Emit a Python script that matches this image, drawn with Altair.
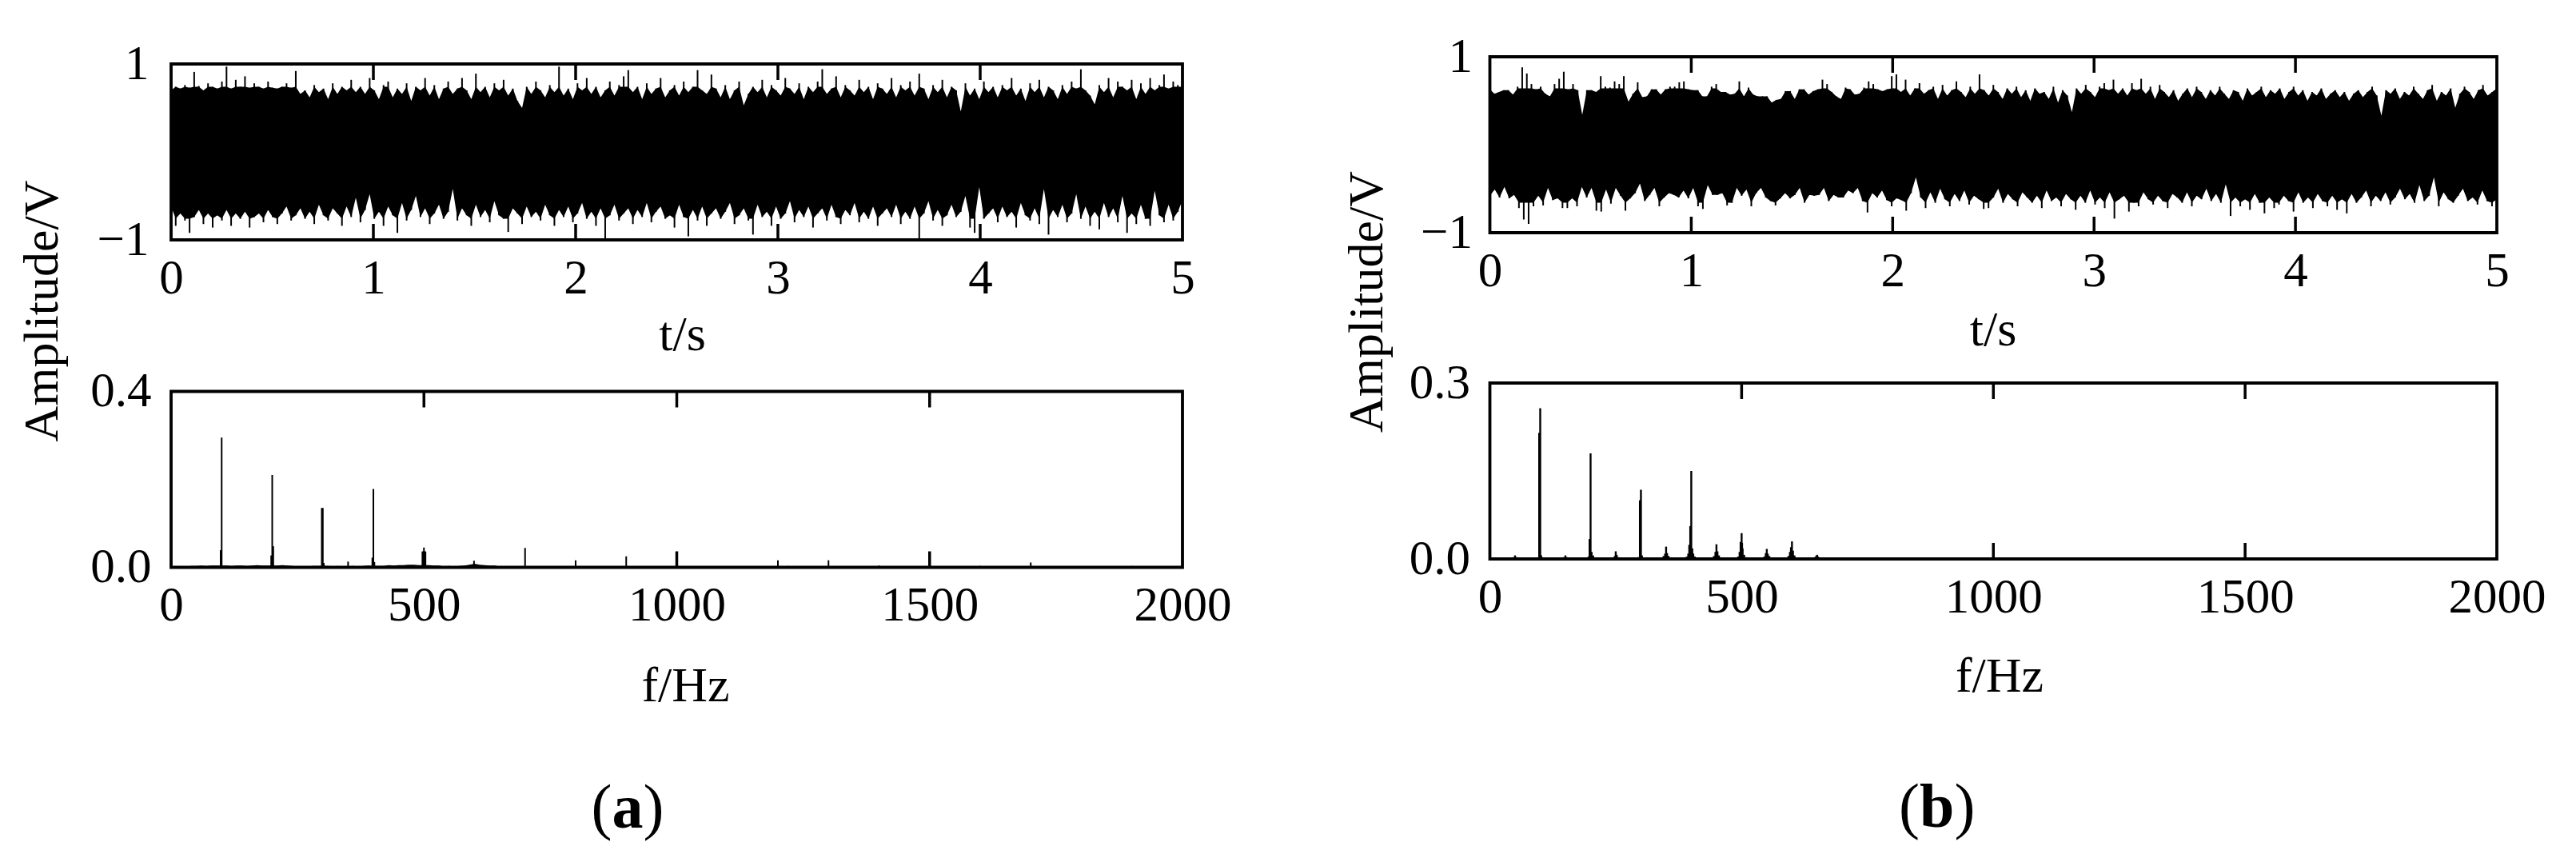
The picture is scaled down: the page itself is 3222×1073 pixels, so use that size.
import altair as alt
import pandas as pd

FONT = 'Liberation Serif'

# (a) upper and lower edge of the time signal
a_hi = [.70,.74,.72,.76,.73,.91,.75,.70,.78,.74,.72,.80,.97,.72,.82,.74,.86,.73,.78,.74,
        .72,.80,.73,.72,.74,.78,.73,.92,.66,.70,.62,.76,.68,.72,.60,.78,.66,.74,.70,.82,
        .68,.74,.66,.84,.70,.60,.76,.80,.62,.72,.66,.78,.58,.74,.70,.84,.64,.76,.60,.72,
        .80,.66,.72,.84,.70,.60,.89,.68,.74,.62,.78,.70,.82,.64,.72,.58,.50,.74,.66,.80,
        .70,.62,.76,.68,.97,.64,.72,.60,.78,.70,.84,.66,.74,.62,.70,.80,.64,.76,.86,.93,
        .68,.74,.60,.78,.66,.72,.84,.62,.70,.76,.64,.80,.68,.74,.93,.70,.66,.88,.72,.62,
        .76,.60,.70,.80,.53,.66,.74,.68,.82,.62,.76,.70,.64,.84,.72,.66,.78,.60,.74,.68,
        .80,.94,.66,.72,.86,.62,.76,.70,.64,.82,.68,.74,.60,.78,.72,.66,.84,.62,.76,.70,
        .80,.64,.89,.72,.60,.76,.68,.82,.62,.74,.70,.46,.78,.64,.72,.60,.80,.68,.74,.62,
        .76,.70,.84,.64,.72,.58,.78,.68,.82,.62,.74,.70,.60,.76,.66,.80,.72,.94,.70,.64,
        .54,.76,.68,.84,.62,.80,.74,.70,.82,.60,.78,.66,.84,.70,.76,.88,.72,.80,.76,.74]
a_lo = [-.62,-.84,-.70,-.78,-.92,-.74,-.66,-.82,-.70,-.86,-.72,-.78,-.66,-.84,-.70,-.76,-.68,-.86,-.74,-.70,
        -.80,-.66,-.74,-.82,-.70,-.62,-.78,-.72,-.64,-.76,-.68,-.82,-.60,-.72,-.78,-.64,-.70,-.84,-.62,-.74,
        -.52,-.80,-.66,-.48,-.76,-.68,-.84,-.62,-.72,-.92,-.58,-.78,-.66,-.50,-.74,-.64,-.82,-.70,-.60,-.76,
        -.68,-.42,-.78,-.64,-.72,-.84,-.60,-.74,-.66,-.80,-.56,-.72,-.76,-.91,-.64,-.70,-.82,-.62,-.74,-.68,
        -.78,-.60,-.72,-.84,-.66,-.74,-.62,-.80,-.70,-.58,-.76,-.68,-.84,-.64,-.99,-.72,-.60,-.78,-.70,-.64,
        -.82,-.66,-.74,-.58,-.80,-.68,-.62,-.76,-.72,-.86,-.60,-.74,-.96,-.66,-.78,-.62,-.84,-.70,-.64,-.76,
        -.68,-.58,-.82,-.72,-.64,-.78,-.94,-.60,-.74,-.68,-.84,-.62,-.76,-.70,-.56,-.80,-.66,-.74,-.62,-.86,
        -.70,-.64,-.78,-.60,-.74,-.82,-.66,-.72,-.58,-.80,-.68,-.76,-.62,-.84,-.70,-.64,-.74,-.60,-.82,-.68,
        -.76,-.62,-.99,-.70,-.56,-.78,-.66,-.84,-.72,-.60,-.74,-.68,-.50,-.86,-.92,-.40,-.76,-.70,-.64,-.80,
        -.62,-.74,-.68,-.86,-.58,-.72,-.78,-.64,-.82,-.42,-.94,-.66,-.74,-.60,-.80,-.70,-.48,-.76,-.62,-.84,
        -.68,-.88,-.58,-.74,-.64,-.80,-.50,-.92,-.70,-.82,-.60,-.76,-.84,-.44,-.72,-.80,-.60,-.78,-.68,-.55]

# (b) upper and lower edge of the time signal
b_hi = [.63,.58,.60,.62,.62,.57,.66,.88,.81,.69,.63,.66,.58,.55,.69,.75,.83,.63,.69,.62,
        .34,.62,.62,.60,.78,.66,.65,.72,.69,.78,.49,.58,.71,.54,.55,.63,.63,.57,.63,.66,
        .66,.71,.72,.63,.62,.62,.55,.55,.66,.69,.60,.60,.57,.58,.72,.55,.65,.57,.55,.55,
        .55,.48,.51,.52,.61,.61,.52,.63,.63,.57,.61,.63,.74,.69,.60,.55,.52,.65,.63,.57,
        .58,.65,.72,.69,.63,.61,.63,.78,
        .80,.60,.74,.56,.64,.70,.58,.62,.66,.52,.68,.56,.62,.72,.60,.54,.66,.58,.80,.62,
        .56,.68,.60,.52,.64,.58,.66,.54,.62,.50,.64,.58,.60,.52,.66,.48,.62,.56,.37,.64,
        .58,.68,.60,.54,.66,.70,.62,.74,.58,.64,.56,.70,.62,.75,.58,.66,.52,.68,.60,.54,
        .62,.50,.58,.64,.54,.66,.60,.52,.62,.56,.66,.58,.52,.62,.60,.50,.64,.56,.60,.66,
        .54,.62,.58,.64,.52,.60,.66,.56,.62,.50,.60,.56,.64,.52,.58,.62,.54,.60,.50,.58,
        .62,.54,.60,.66,.56,.33,.62,.58,.64,.52,.60,.56,.66,.58,.52,.62,.68,.50,.60,.56,
        .64,.42,.58,.66,.60,.52,.62,.68,.56,.60,.64]
b_lo = [-.58,-.51,-.60,-.48,-.61,-.57,-.72,-.85,-.90,-.70,-.58,-.69,-.49,-.63,-.61,-.72,-.72,-.61,-.70,-.48,
        -.60,-.49,-.75,-.76,-.51,-.67,-.49,-.58,-.75,-.61,-.55,-.44,-.64,-.57,-.49,-.70,-.60,-.55,-.57,-.60,
        -.52,-.61,-.49,-.70,-.73,-.46,-.57,-.57,-.55,-.69,-.66,-.49,-.58,-.51,-.70,-.55,-.49,-.60,-.64,-.69,
        -.61,-.55,-.61,-.57,-.49,-.66,-.57,-.58,-.57,-.49,-.64,-.57,-.60,-.60,-.52,-.55,-.49,-.64,-.77,-.55,
        -.60,-.52,-.63,-.70,-.61,-.63,-.75,-.55,
        -.37,-.60,-.72,-.54,-.66,-.50,-.62,-.70,-.56,-.64,-.52,-.68,-.58,-.62,-.73,-.72,-.60,-.50,-.66,-.56,
        -.62,-.70,-.54,-.60,-.66,-.58,-.72,-.52,-.64,-.60,-.70,-.56,-.62,-.74,-.58,-.66,-.52,-.68,-.60,-.72,
        -.54,-.84,-.62,-.58,-.76,-.66,-.70,-.54,-.62,-.68,-.58,-.64,-.72,-.56,-.60,-.66,-.54,-.70,-.58,-.62,
        -.50,-.64,-.56,-.66,-.45,-.81,-.60,-.70,-.62,-.74,-.56,-.66,-.78,-.60,-.72,-.68,-.58,-.64,-.76,-.54,
        -.66,-.60,-.72,-.56,-.64,-.70,-.58,-.74,-.62,-.78,-.56,-.66,-.60,-.52,-.70,-.58,-.64,-.54,-.68,-.60,
        -.50,-.62,-.56,-.66,-.46,-.64,-.58,-.37,-.70,-.54,-.62,-.66,-.58,-.50,-.64,-.60,-.68,-.52,-.64,-.70,-.62]

# (a) spectrum: lines and the low floor under them
a_peak_f = [98,100,198,200,202,298,300,302,350,398,400,402,497,500,503,599,700,
            800,900,1200,1220,1300,1400,1600,1700,1800,1900]
a_peak_v = [.039,.295,.027,.210,.048,.135,.135,.010,.013,.022,.178,.012,.036,.045,.036,.015,.044,
            .016,.025,.016,.003,.016,.004,.003,.011,.002,.003]
a_floor_f = [30,40,50,60,70,80,90,110,120,130,140,150,160,170,180,190,210,220,230,240,250,260,
             270,280,290,310,320,330,340,360,370,380,390,410,420,430,440,450,460,470,480,490,
             510,520,530,540,550,560,570,580,590,600,610,620,630,640,650,660,670]
a_floor_v = [.002,.003,.003,.004,.003,.004,.004,.004,.003,.004,.004,.003,.004,.005,.004,.004,.004,.005,.004,.003,.002,.001,
             .001,.003,.003,.003,.002,.003,.001,.003,.002,.003,.004,.003,.003,.005,.004,.005,.005,.006,.006,.005,
             .005,.004,.004,.002,.003,.002,.003,.004,.006,.008,.006,.005,.004,.004,.002,.002,.001]

# (b) spectrum: harmonics with their skirts
b_peak_f = [5,15,25,44,47,50,53,56,92,95,98,100,102,105,144,147,150,153,156,
            190,193,196,198,200,202,205,208,242,245,248,250,252,255,258,
            292,295,298,300,302,305,342,345,348,350,352,355,358,
            388,391,394,396,398,400,402,404,407,410,442,445,448,450,452,455,458,
            490,493,496,498,500,502,505,508,510,542,545,548,550,552,555,558,
            590,593,596,598,600,602,605,608,642,645,648,650,652,655]
b_peak_v = [.002,.002,.002,.001,.003,.006,.003,.001,.001,.002,.215,.257,.006,.002,.001,.003,.006,.003,.001,
            .001,.002,.004,.034,.180,.012,.006,.002,.001,.002,.005,.013,.007,.003,.001,
            .001,.003,.100,.118,.006,.002,.002,.005,.009,.021,.010,.005,.002,
            .002,.004,.009,.024,.056,.150,.018,.009,.004,.002,.002,.005,.012,.025,.013,.006,.002,
            .002,.004,.012,.029,.044,.018,.007,.003,.002,.002,.004,.010,.017,.009,.005,.002,
            .002,.005,.012,.020,.030,.014,.006,.002,.001,.003,.005,.007,.004,.001]

t_ticks = [1, 2, 3, 4]
f_ticks = [500, 1000, 1500]
caption_a = ['(', 'a', ')']
caption_b = ['(', 'b', ')']


def inner_ticks(values, x):
    ticks = pd.DataFrame({x.shorthand.split(':')[0]: values})
    top = alt.Chart(ticks).mark_rule(color='black', strokeWidth=3.5).encode(
        x=x, y=alt.value(0), y2=alt.value(20))
    bottom = alt.Chart(ticks).mark_rule(color='black', strokeWidth=3.5).encode(
        x=x, y=alt.value(220), y2=alt.value(200))
    return [top, bottom]


def signal_panel(hi, lo, body, y_pad, title_x, title_y, amp_title):
    df_hi = pd.DataFrame({'t': [i * 5 / (len(hi) - 1) for i in range(len(hi))], 'v': hi})
    df_lo = pd.DataFrame({'t': [i * 5 / (len(lo) - 1) for i in range(len(lo))], 'v': lo})
    # solid part of the band, the rest of each value stands as a thin needle
    df_hi['body'] = df_hi['v'].clip(upper=body[0])
    df_lo['body'] = df_lo['v'].clip(lower=body[1])
    x = alt.X('t:Q', scale=alt.Scale(domain=[0, 5], nice=False),
              axis=alt.Axis(values=[0, 1, 2, 3, 4, 5], format='d', labelPadding=18, title='t/s',
                            titleX=title_x, titleY=title_y, titleAngle=0))
    y_scale = alt.Scale(domain=[-1, 1], nice=False)
    y_axis = alt.Axis(values=[-1, 0, 1], format='d', labelPadding=y_pad, title='Amplitude/V',
                      titleX=amp_title[0], titleY=amp_title[1])
    layers = []
    for df in [df_hi, df_lo]:
        layers.append(alt.Chart(df).mark_area(color='black').encode(
            x=x, y=alt.Y('body:Q', scale=y_scale, axis=y_axis), y2=alt.datum(0)))
        layers.append(alt.Chart(df).mark_rule(color='black', strokeWidth=2).encode(
            x=x, y=alt.Y('v:Q', scale=y_scale, axis=y_axis), y2=alt.datum(0)))
    return alt.layer(*layers, *inner_ticks(t_ticks, x))


def spectrum_panel(peak_f, peak_v, ymax, y_pad, title_x, title_y, caption, cap_x, cap_y,
                   floor_f=None, floor_v=None, line_width=2):
    x = alt.X('f:Q', scale=alt.Scale(domain=[0, 2000], nice=False),
              axis=alt.Axis(values=[0, 500, 1000, 1500, 2000], format='d', labelPadding=18, title='f/Hz',
                            titleX=title_x, titleY=title_y, titleAngle=0))
    y = alt.Y('v:Q', scale=alt.Scale(domain=[0, ymax], nice=False),
              axis=alt.Axis(values=[0, ymax], format='.1f', labelPadding=y_pad, title=None))
    layers = [alt.Chart(pd.DataFrame({'f': peak_f, 'v': peak_v})).mark_rule(
        color='black', strokeWidth=line_width).encode(x=x, y=y, y2=alt.datum(0))]
    if floor_f:
        layers.append(alt.Chart(pd.DataFrame({'f': floor_f, 'v': floor_v})).mark_area(color='black').encode(
            x=x, y=y, y2=alt.datum(0)))
    layers += inner_ticks(f_ticks, x)
    for s, cx, weight in zip(caption, cap_x, ['normal', 'bold', 'normal']):
        layers.append(alt.Chart(pd.DataFrame({'s': [s]})).mark_text(
            font=FONT, fontSize=78, fontWeight=weight, align='left', baseline='alphabetic', color='black').encode(
            text='s:N', x=alt.value(cx), y=alt.value(cap_y)))
    return alt.layer(*layers)


a_top = signal_panel(a_hi, a_lo, (.74, -.76), 28, 639, 137, (-143, 308.5)).properties(width=1265, height=220)
a_bot = spectrum_panel(a_peak_f, a_peak_v, 0.4, 25, 643, 167, caption_a, [525.5, 551.5, 590.5], 545,
                       a_floor_f, a_floor_v).properties(width=1265, height=220)
b_top = signal_panel(b_hi, b_lo, (.64, -.66), 22, 629, 140, (-135, 306)).properties(width=1259.5, height=220)
b_bot = spectrum_panel(b_peak_f, b_peak_v, 0.3, 25, 637, 165, caption_b, [511.5, 537.5, 581], 555,
                       line_width=2.4).properties(width=1259.5, height=220)

spacer = alt.Chart(pd.DataFrame({'s': ['']})).mark_text().encode(text='s:N').properties(
    width=1, height=8, view=alt.ViewBackground(stroke=None))

col_a = alt.vconcat(spacer, alt.vconcat(a_top, a_bot, spacing=189.5, bounds='flush'), spacing=-33)
col_b = alt.vconcat(b_top, b_bot, spacing=188, bounds='flush')

chart = alt.hconcat(col_a, col_b, spacing=134.5).properties(
    background='white', padding={'left': 11, 'top': 30, 'right': 10, 'bottom': 5}
).configure_view(stroke='black', strokeWidth=3.8).configure_axis(
    grid=False, domain=False, ticks=False, labelFont=FONT, labelFontSize=61, labelColor='black',
    labelOverlap=False, labelFlush=False, labelBound=False,
    titleFont=FONT, titleFontSize=62, titleFontWeight='normal', titleColor='black',
    titleAlign='center', titleBaseline='alphabetic'
)

chart.save("out.html", embed_options={"renderer": "svg", "actions": False})
